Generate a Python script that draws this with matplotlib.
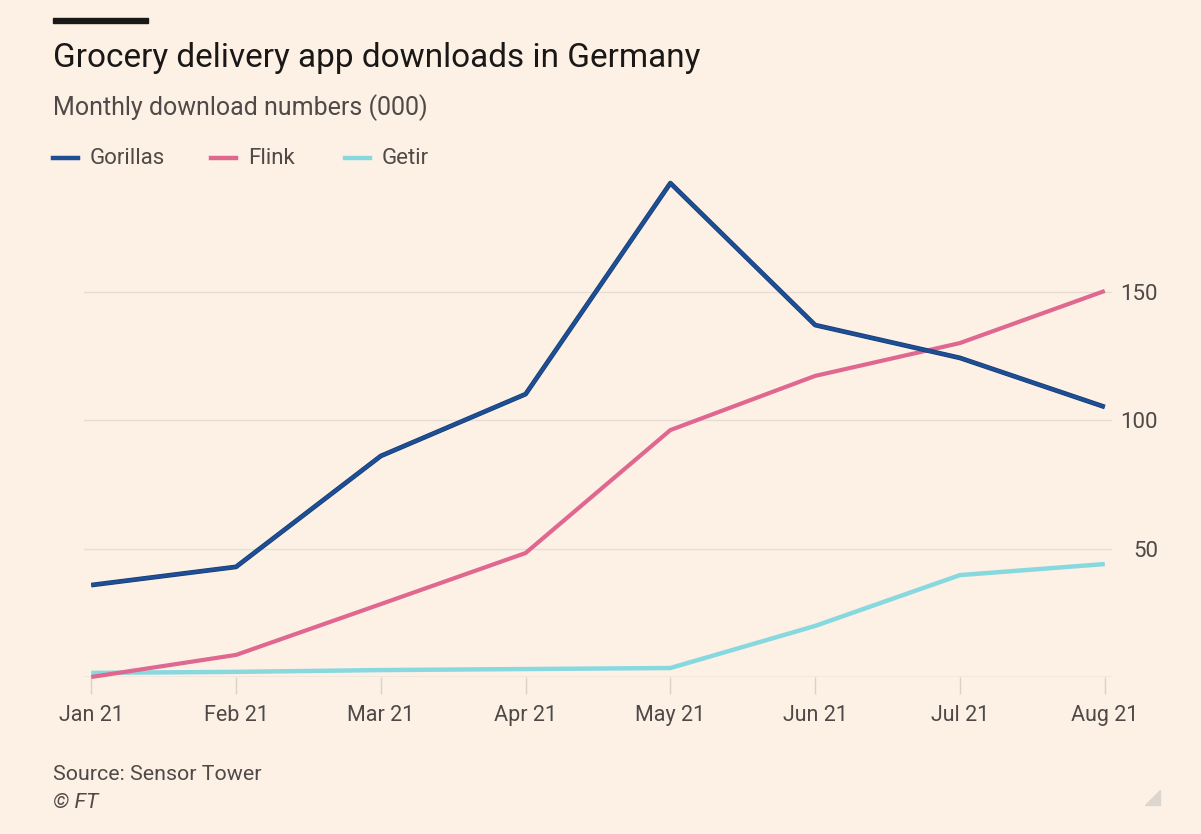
import matplotlib
matplotlib.use("Agg")
import matplotlib.pyplot as plt
import matplotlib.patheffects as pe
from matplotlib.patches import Polygon, Rectangle
from matplotlib.lines import Line2D

months = ["Jan 21", "Feb 21", "Mar 21", "Apr 21", "May 21", "Jun 21", "Jul 21", "Aug 21"]
gorillas = [35.8, 42.9, 86.1, 110.2, 192.4, 137.1, 124.3, 105.2]
flink = [0.0, 8.6, 28.4, 48.3, 96.2, 117.3, 130.1, 150.4]
getir = [1.6, 2.0, 2.7, 3.1, 3.5, 19.9, 39.7, 44.0]
y_ticks = [0, 50, 100, 150]
y_tick_labels = ["", "50", "100", "150"]

bg = "#fdf1e6"
c_gorillas = "#1f4f93"
c_flink = "#df6790"
c_getir = "#88d8e0"
grey_text = "#4f4a47"

plt.rcParams["font.family"] = ["Roboto", "DejaVu Sans"]

fig = plt.figure(figsize=(12.01, 8.34), dpi=100, facecolor=bg)
ax = fig.add_axes([84 / 1201, 157 / 834, 1028 / 1201, 513.4 / 834])
ax.set_facecolor(bg)

x = list(range(len(months)))
ax.plot(x, getir, color=c_getir, lw=3.2, clip_on=False, zorder=3, solid_capstyle="butt")
ax.plot(x, flink, color=c_flink, lw=3.0, clip_on=False, zorder=4, solid_capstyle="butt")
ax.plot(x, gorillas, color=c_gorillas, lw=2.4, clip_on=False, zorder=5, solid_capstyle="butt",
        path_effects=[pe.Stroke(linewidth=3.4, foreground="#123a78"), pe.Normal()])

ax.set_xlim(-0.05, 7.05)
ax.set_ylim(0, 200)
ax.set_xticks(x)
ax.set_xticklabels(months)
ax.set_yticks(y_ticks)
ax.set_yticklabels(y_tick_labels)
ax.yaxis.tick_right()
for lab in ax.get_yticklabels():
    lab.set_horizontalalignment("right")
    lab.set_verticalalignment("center_baseline")
ax.tick_params(axis="y", length=0, pad=33, labelsize=16, labelcolor=grey_text)
ax.tick_params(axis="x", length=12, width=1, color="#d9d2cb", pad=8, labelsize=15.5, labelcolor=grey_text)
ax.grid(axis="y", color="#e6ddd4", lw=1)
for s in ax.spines.values():
    s.set_visible(False)
ax.axhline(0, color="#d9d2cb", lw=1, zorder=1)

# header
fig.patches.append(Rectangle((53 / 1201, 1 - 23 / 834), 95 / 1201, 5 / 834,
                             transform=fig.transFigure, color="#1a1817"))
fig.text(53 / 1201, 1 - 58 / 834, "Grocery delivery app downloads in Germany",
         fontsize=24, color="#1a1817", va="center", ha="left")
fig.text(53 / 1201, 1 - 108 / 834, "Monthly download numbers (000)",
         fontsize=18, color=grey_text, va="center", ha="left")

# legend
legend_items = [("Gorillas", c_gorillas, 53), ("Flink", c_flink, 211), ("Getir", c_getir, 345)]
ly = 1 - 158 / 834
for name, col, px in legend_items:
    fig.lines.append(Line2D([px / 1201, (px + 25) / 1201], [ly, ly], transform=fig.transFigure,
                            color=col, lw=3.2))
    fig.text((px + 37) / 1201, ly, name, fontsize=16, color=grey_text, va="center", ha="left")

# footer
fig.text(53 / 1201, 1 - 775 / 834, "Source: Sensor Tower", fontsize=15.4, color=grey_text,
         va="center", ha="left")
fig.text(53 / 1201, 1 - 803 / 834, "\u00a9 FT", fontsize=15.4, color=grey_text, style="italic",
         va="center", ha="left")
fig.patches.append(Polygon([(1145 / 1201, 1 - 805 / 834), (1160 / 1201, 1 - 805 / 834),
                            (1160 / 1201, 1 - 790 / 834)], closed=True,
                           transform=fig.transFigure, color="#dcd6cf"))

fig.savefig("out.png", dpi=100, facecolor=bg)
